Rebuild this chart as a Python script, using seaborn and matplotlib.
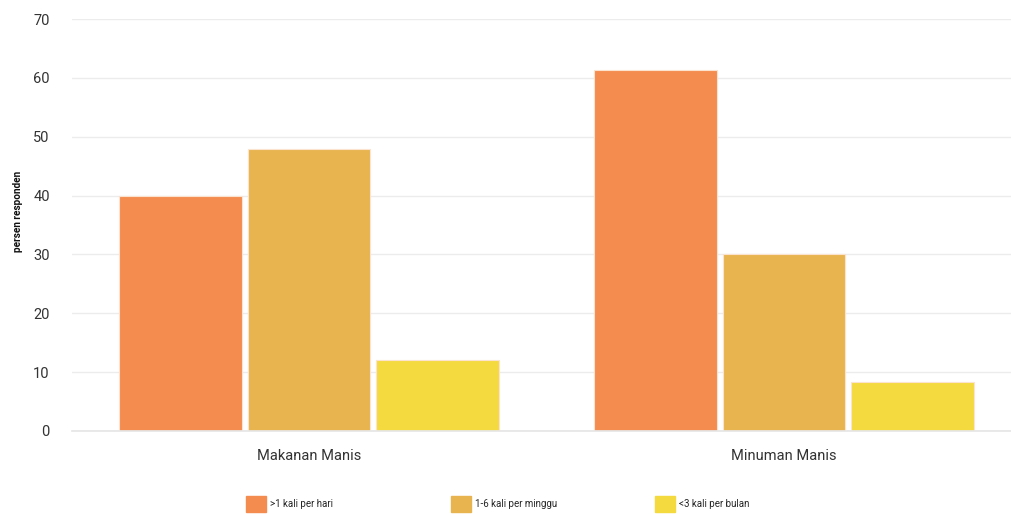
import matplotlib
matplotlib.use("Agg")
import matplotlib.pyplot as plt
import seaborn as sns
import pandas as pd
from matplotlib.patches import Patch

categories = ["Makanan Manis", "Minuman Manis"]
series_names = [">1 kali per hari", "1-6 kali per minggu", "<3 kali per bulan"]
val_daily = [40.0, 61.4]
val_weekly = [47.9, 30.1]
val_monthly = [12.0, 8.4]
colors = ["#F48C50", "#E8B450", "#F4DA3F"]
y_ticks = [0, 10, 20, 30, 40, 50, 60, 70]

rows = []
for name, vals in zip(series_names, [val_daily, val_weekly, val_monthly]):
    for c, v in zip(categories, vals):
        rows.append({"kategori": c, "frekuensi": name, "persen": v})
df = pd.DataFrame(rows)

sns.set_theme(style="white")
plt.rcParams['font.family'] = ['Roboto', 'DejaVu Sans']

fig = plt.figure(figsize=(10.12, 5.15), dpi=100)
ax = fig.add_axes([72 / 1012, 1 - 431 / 515, 1 - 72 / 1012, (431 - 19) / 515])

sns.barplot(data=df, x="kategori", y="persen", hue="frekuensi",
            hue_order=series_names, order=categories, palette=colors,
            width=0.813, gap=0.047, saturation=1, edgecolor="#fbe3cf",
            linewidth=0.8, ax=ax, legend=False, errorbar=None)

ax.set_ylim(0, 70)
ax.set_xlim(-0.499, 1.48)
ax.set_yticks(y_ticks)
ax.set_yticklabels([str(t) for t in y_ticks], fontsize=10.5, color="#333333")
ax.yaxis.grid(True, color="#ececec", linewidth=1)
ax.set_axisbelow(True)
for s in ["top", "right", "left"]:
    ax.spines[s].set_visible(False)
ax.spines["bottom"].set_color("#e6e6e6")
ax.tick_params(axis="y", length=0, pad=16)
ax.tick_params(axis="x", length=5, color="#dddddd", width=1, pad=8, labelsize=10.5, labelcolor="#333333")
ax.set_xlabel("")
ax.set_ylabel("persen responden", fontsize=7.2, fontweight="bold", color="#111111")
ax.yaxis.set_label_coords(-0.052, 0.534)

legend_x = [246, 451, 655]
for name, col, lx in zip(series_names, colors, legend_x):
    fig.legend([Patch(facecolor=col, edgecolor=col)], [name], loc="center left",
               bbox_to_anchor=(lx / 1012, 1 - 504 / 515), frameon=False, fontsize=7,
               handlelength=2.1, handleheight=2.3, handletextpad=0.4,
               borderaxespad=0.0, borderpad=0.0)

fig.savefig("out.png", dpi=100)
